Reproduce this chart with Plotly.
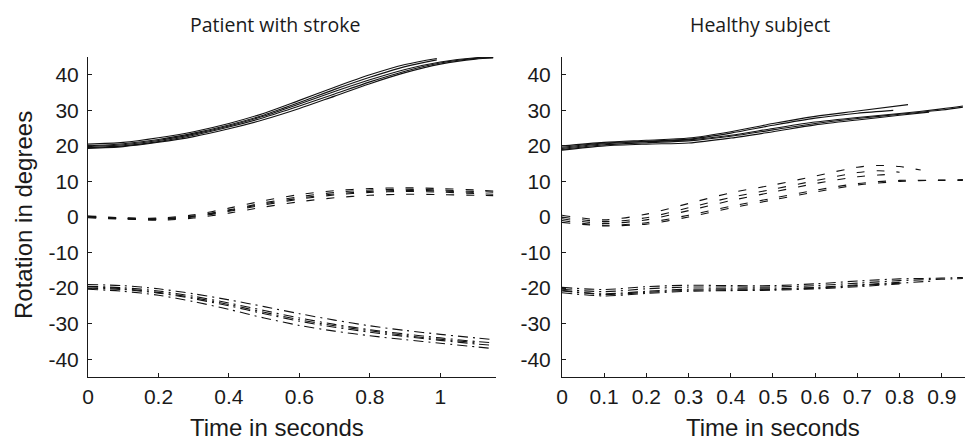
import plotly.graph_objects as go

# ---------------- data ----------------
# Patient with stroke (left panel)
p_t_long = [0, .1, .2, .3, .4, .5, .6, .7, .8, .9, 1.0, 1.1, 1.15]
p_t_s_short = [0, .1, .2, .3, .4, .5, .6, .7, .8, .9, .99]
p_t_mid = [0, .1, .2, .3, .4, .5, .6, .7, .8, .9, 1.0, 1.1]

p_solid_short = [
    [20.5, 21.0, 22.3, 24.0, 26.3, 29.2, 32.8, 36.5, 40.0, 42.9, 44.6],
    [20.0, 20.6, 21.8, 23.6, 25.9, 28.7, 32.2, 35.9, 39.3, 42.3, 44.2],
]
p_solid_long = [
    [19.8, 20.3, 21.5, 23.3, 25.6, 28.4, 31.8, 35.3, 38.6, 41.5, 43.6, 44.8, 45.0],
    [19.5, 20.0, 21.2, 23.0, 25.3, 28.0, 31.2, 34.6, 38.0, 41.0, 43.3, 44.6, 44.9],
    [19.3, 19.8, 21.0, 22.6, 24.8, 27.4, 30.5, 34.0, 37.5, 40.6, 43.0, 44.4, 44.7],
]
p_dash_long = [
    [0.3, -0.2, -0.3, 0.6, 2.5, 4.6, 6.3, 7.4, 8.0, 8.2, 8.0, 7.6, 7.3],
    [0.0, -0.4, -0.5, 0.3, 2.0, 4.0, 5.7, 6.9, 7.6, 7.8, 7.6, 7.2, 7.0],
    [-0.2, -0.6, -0.7, 0.0, 1.6, 3.4, 5.0, 6.2, 6.9, 7.2, 7.0, 6.6, 6.4],
    [0.2, -0.5, -0.9, -0.3, 1.1, 2.8, 4.3, 5.4, 6.1, 6.4, 6.3, 6.1, 6.0],
]
p_dash_mid = [
    [0.0, -0.3, -0.6, 0.2, 1.8, 3.7, 5.3, 6.5, 7.2, 7.5, 7.3, 6.9],
]
p_dashdot_long = [
    [-19.0, -19.3, -20.2, -21.6, -23.3, -25.2, -27.2, -29.0, -30.6, -31.9, -33.0, -34.0, -34.5],
    [-19.5, -19.9, -20.8, -22.3, -24.2, -26.3, -28.4, -30.2, -31.7, -32.9, -34.0, -35.0, -35.4],
    [-20.0, -20.4, -21.4, -23.0, -25.0, -27.2, -29.3, -31.0, -32.4, -33.6, -34.7, -35.7, -36.1],
    [-20.3, -20.9, -22.0, -23.8, -26.0, -28.4, -30.5, -32.1, -33.4, -34.5, -35.5, -36.5, -37.0],
]
p_dashdot_mid = [
    [-19.6, -20.2, -21.2, -22.7, -24.6, -26.8, -28.9, -30.6, -32.0, -33.3, -34.4, -35.3],
]

# Healthy subject (right panel)
h_t_long = [0, .1, .2, .3, .4, .5, .6, .7, .8, .9, .95]
h_solid_curves = [
    ([0, .1, .2, .3, .4, .5, .6, .7, .82], [20.0, 21.0, 21.6, 22.2, 24.0, 26.3, 28.3, 29.8, 31.6]),
    ([0, .1, .2, .3, .4, .5, .6, .7, .785], [19.6, 20.8, 21.3, 21.9, 23.6, 25.8, 27.8, 29.2, 30.0]),
    (h_t_long, [19.3, 20.6, 21.2, 21.7, 23.0, 24.9, 26.7, 28.0, 29.1, 30.4, 31.2]),
    (h_t_long, [19.0, 20.3, 20.9, 21.4, 22.7, 24.5, 26.3, 27.7, 28.9, 30.1, 30.9]),
    ([0, .1, .2, .3, .4, .5, .6, .7, .8, .87], [18.8, 20.0, 20.5, 20.8, 22.2, 24.0, 25.9, 27.3, 28.6, 29.5]),
]
h_dash_curves = [
    ([0, .1, .2, .3, .4, .5, .6, .7, .75, .8, .85], [0.5, -0.8, 0.8, 3.8, 6.8, 9.0, 11.5, 14.0, 14.5, 14.2, 13.2]),
    ([0, .1, .2, .3, .4, .5, .6, .7, .75, .8], [0.0, -1.3, -0.2, 2.6, 5.5, 7.8, 10.2, 12.5, 13.0, 12.6]),
    ([0, .1, .2, .3, .4, .5, .6, .7, .75, .78], [-0.5, -1.8, -0.8, 1.8, 4.6, 7.0, 9.4, 11.3, 11.8, 12.0]),
    (h_t_long, [-1.0, -2.3, -1.6, 0.5, 3.0, 5.3, 7.5, 9.4, 10.3, 10.3, 10.3]),
    (h_t_long, [-1.5, -2.5, -2.0, 0.0, 2.5, 4.8, 7.0, 9.0, 10.0, 10.4, 10.5]),
]
h_dashdot_curves = [
    (h_t_long, [-19.8, -20.4, -19.6, -19.2, -19.3, -19.3, -18.8, -18.0, -17.4, -17.2, -17.0]),
    (h_t_long, [-20.3, -21.0, -20.2, -19.7, -19.7, -19.7, -19.3, -18.6, -17.9, -17.5, -17.3]),
    ([0, .1, .2, .3, .4, .5, .6, .7, .8], [-20.8, -21.6, -20.9, -20.3, -20.2, -20.2, -19.8, -19.1, -18.4]),
    ([0, .1, .2, .3, .4, .5, .6, .7, .8], [-21.3, -22.2, -21.5, -20.9, -20.7, -20.6, -20.2, -19.6, -18.8]),
    ([0, .1, .2, .3, .4, .5, .6, .7, .8, .88], [-20.6, -21.8, -21.2, -20.6, -20.5, -20.4, -20.0, -19.3, -18.6, -18.0]),
]

y_ticks = [-40, -30, -20, -10, 0, 10, 20, 30, 40]
y_labels = ["-40", "-30", "-20", "-10", "0", "10", "20", "30", "40"]
left_x_ticks = [0, 0.2, 0.4, 0.6, 0.8, 1]
left_x_labels = ["0", "0.2", "0.4", "0.6", "0.8", "1"]
right_x_ticks = [0, 0.1, 0.2, 0.3, 0.4, 0.5, 0.6, 0.7, 0.8, 0.9]
right_x_labels = ["0", "0.1", "0.2", "0.3", "0.4", "0.5", "0.6", "0.7", "0.8", "0.9"]

titles = ["Patient with stroke", "Healthy subject"]
x_title = "Time in seconds"
y_title = "Rotation in degrees"

# ---------------- layout geometry ----------------
W, H = 965, 444
ML, MR, MT, MB = 88, 0, 57, 67
PW, PH = W - ML - MR, H - MT - MB


def px_x(p):
    return (p - ML) / PW


def px_y(p):
    return (H - MB - p) / PH


DASH = "8px,12px"
DASHDOT = "10px,5px,2px,5px"
LC = "#111111"

fig = go.Figure()


def add(t, y, dash, xa, ya):
    fig.add_trace(go.Scatter(x=t, y=y, mode="lines", xaxis=xa, yaxis=ya,
                             line=dict(color=LC, width=1.1, dash=dash, shape="spline", smoothing=0.8),
                             showlegend=False, hoverinfo="skip"))


for y in p_solid_short:
    add(p_t_s_short, y, "solid", "x", "y")
for y in p_solid_long:
    add(p_t_long, y, "solid", "x", "y")
for y in p_dash_long:
    add(p_t_long, y, DASH, "x", "y")
for y in p_dash_mid:
    add(p_t_mid, y, DASH, "x", "y")
for y in p_dashdot_long:
    add(p_t_long, y, DASHDOT, "x", "y")
for y in p_dashdot_mid:
    add(p_t_mid, y, DASHDOT, "x", "y")

for t, y in h_solid_curves:
    add(t, y, "solid", "x2", "y2")
for t, y in h_dash_curves:
    add(t, y, DASH, "x2", "y2")
for t, y in h_dashdot_curves:
    add(t, y, DASHDOT, "x2", "y2")

tick_font = dict(family="Liberation Sans, Arial, sans-serif", size=21, color="#1a1a1a")
axis_common = dict(showline=True, linecolor="#1a1a1a", linewidth=1, showgrid=False,
                   zeroline=False, ticks="inside", ticklen=4, tickcolor="#1a1a1a",
                   tickwidth=1, mirror=False, tickfont=tick_font, tickmode="array")

fig.update_layout(
    width=W, height=H,
    margin=dict(l=ML, r=MR, t=MT, b=MB),
    paper_bgcolor="white", plot_bgcolor="white",
    xaxis=dict(domain=[0, px_x(496)], range=[0, 1.158],
               tickvals=left_x_ticks, ticktext=left_x_labels, anchor="y",
               ticklabelstandoff=1, **axis_common),
    yaxis=dict(domain=[0, 1], range=[-45, 45], tickvals=y_ticks, ticktext=y_labels,
               anchor="x", ticklabelstandoff=4, **axis_common),
    xaxis2=dict(domain=[px_x(562), 1], range=[0, 0.955],
                tickvals=right_x_ticks, ticktext=right_x_labels, anchor="y2",
                ticklabelstandoff=1, **axis_common),
    yaxis2=dict(domain=[0, 1], range=[-45, 45], tickvals=y_ticks, ticktext=y_labels,
                anchor="x2", ticklabelstandoff=6, **axis_common),
)

title_font = dict(family="Open Sans, Noto Sans, sans-serif", size=19.5, color="#1a1a1a")
label_font = dict(family="Liberation Sans, Arial, sans-serif", size=24, color="#1a1a1a")

annos = [
    dict(text=titles[0], x=px_x(275), y=px_y(25), font=title_font),
    dict(text=titles[1], x=px_x(760), y=px_y(25), font=title_font),
    dict(text=x_title, x=px_x(277), y=px_y(427), font=label_font),
    dict(text=x_title, x=px_x(773), y=px_y(427), font=label_font),
    dict(text=y_title, x=px_x(23), y=px_y(215), font=label_font, textangle=-90),
]
for a in annos:
    fig.add_annotation(xref="paper", yref="paper", showarrow=False,
                       xanchor="center", yanchor="middle", **a)

fig.write_html("out.html")
